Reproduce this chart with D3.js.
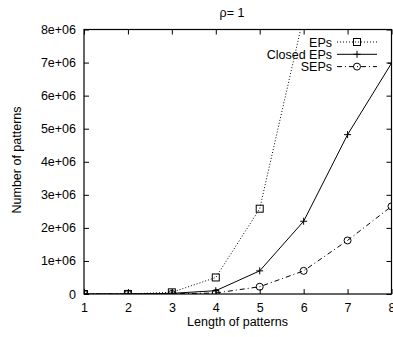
<!DOCTYPE html>
<html>
  <head>
    <script src="https://cdnjs.cloudflare.com/ajax/libs/d3/7.8.5/d3.min.js"></script>
    <meta charset="utf-8">
    <title>Number of patterns</title>
    <style>
      body { margin: 0; background: #fff; }
      text { font-family: "Liberation Sans", Arial, sans-serif; font-size: 12.5px; fill: #000; }
    </style>
  </head>
  <body>
    <script>
      var lengths = [1, 2, 3, 4, 5, 6, 7, 8];
      var eps = [0, 2000, 50000, 500000, 2580000, 8400000];
      var closedEps = [0, 1000, 20000, 100000, 700000, 2200000, 4820000, 6980000];
      var seps = [0, 500, 5000, 30000, 220000, 700000, 1620000, 2650000];
      var yTicks = [0, 1e6, 2e6, 3e6, 4e6, 5e6, 6e6, 7e6, 8e6];
      var yTickLabels = ["0", "1e+06", "2e+06", "3e+06", "4e+06", "5e+06", "6e+06", "7e+06", "8e+06"];

      var series = [
        { name: "EPs", values: eps, dash: "1,2", marker: "square" },
        { name: "Closed EPs", values: closedEps, dash: null, marker: "plus" },
        { name: "SEPs", values: seps, dash: "5,3,1,3", marker: "circle" }
      ];

      // plot box (note: "top" is a reserved window property, so prefix these)
      var plotLeft = 84, plotRight = 391.5, plotTop = 29.5, plotBottom = 294;

      var svg = d3.select("body").append("svg")
                  .attr("width", 393)
                  .attr("height", 337);

      var x = d3.scaleLinear().domain([1, 8]).range([plotLeft, plotRight]);
      var y = d3.scaleLinear().domain([0, 8e6]).range([plotBottom, plotTop]);

      svg.append("clipPath").attr("id", "plot")
         .append("rect")
         .attr("x", plotLeft).attr("y", plotTop)
         .attr("width", plotRight - plotLeft).attr("height", plotBottom - plotTop);

      // axes with inward ticks, mirrored on all sides
      svg.append("g").attr("transform", "translate(" + plotLeft + ",0)")
        .call(d3.axisLeft(y).tickValues(yTicks).tickSize(-5).tickPadding(8)
          .tickFormat(function (d, i) { return yTickLabels[i]; }));
      svg.append("g").attr("transform", "translate(" + plotRight + ",0)")
        .call(d3.axisRight(y).tickValues(yTicks).tickSize(-5).tickFormat(""));
      svg.append("g").attr("transform", "translate(0," + plotBottom + ")")
        .call(d3.axisBottom(x).tickValues(lengths).tickSize(-5).tickPadding(9)
          .tickFormat(d3.format("d")));
      svg.append("g").attr("transform", "translate(0," + plotTop + ")")
        .call(d3.axisTop(x).tickValues(lengths).tickSize(-5).tickFormat(""));

      svg.selectAll(".domain").remove();
      svg.selectAll(".tick line").attr("stroke", "#000");
      svg.selectAll(".tick text").style("font-family", "'Liberation Sans', Arial, sans-serif")
         .style("font-size", "12.5px").attr("fill", "#000");

      svg.append("rect")
         .attr("x", plotLeft).attr("y", plotTop)
         .attr("width", plotRight - plotLeft).attr("height", plotBottom - plotTop)
         .attr("fill", "none").attr("stroke", "#000").attr("stroke-width", 1.2);

      function drawMarker(g, kind, cx, cy) {
        if (kind === "square") {
          g.append("rect").attr("x", cx - 3.5).attr("y", cy - 3.5)
           .attr("width", 7).attr("height", 7)
           .attr("fill", "none").attr("stroke", "#000").attr("stroke-width", 1);
        } else if (kind === "plus") {
          g.append("path").attr("d", "M" + (cx - 3.5) + "," + cy + "H" + (cx + 3.5) +
                                     "M" + cx + "," + (cy - 3.5) + "V" + (cy + 3.5))
           .attr("stroke", "#000").attr("stroke-width", 1);
        } else {
          g.append("circle").attr("cx", cx).attr("cy", cy).attr("r", 3.5)
           .attr("fill", "none").attr("stroke", "#000").attr("stroke-width", 1);
        }
      }

      var plot = svg.append("g").attr("clip-path", "url(#plot)");
      var line = d3.line()
        .x(function (d, i) { return x(lengths[i]); })
        .y(function (d) { return y(d); });

      series.forEach(function (s) {
        plot.append("path")
            .attr("d", line(s.values))
            .attr("fill", "none")
            .attr("stroke", "#000")
            .attr("stroke-width", 1)
            .attr("stroke-dasharray", s.dash);
        s.values.forEach(function (v, i) {
          drawMarker(plot, s.marker, x(lengths[i]), y(v));
        });
      });

      // legend
      var legend = svg.append("g");
      series.forEach(function (s, i) {
        var ly = 42 + i * 12.3;
        legend.append("text").attr("x", 332).attr("y", ly + 4.5)
              .attr("text-anchor", "end").text(s.name);
        legend.append("line").attr("x1", 337).attr("x2", 377)
              .attr("y1", ly).attr("y2", ly)
              .attr("stroke", "#000").attr("stroke-width", 1)
              .attr("stroke-dasharray", s.dash);
        drawMarker(legend, s.marker, 357, ly);
      });

      svg.append("text").attr("x", 232).attr("y", 17)
         .attr("text-anchor", "middle").text("\u03c1= 1");
      svg.append("text").attr("x", 237.5).attr("y", 326)
         .attr("text-anchor", "middle").text("Length of patterns");
      svg.append("text")
         .attr("transform", "translate(21,160) rotate(-90)")
         .attr("text-anchor", "middle").text("Number of patterns");
    </script>
  </body>
</html>
